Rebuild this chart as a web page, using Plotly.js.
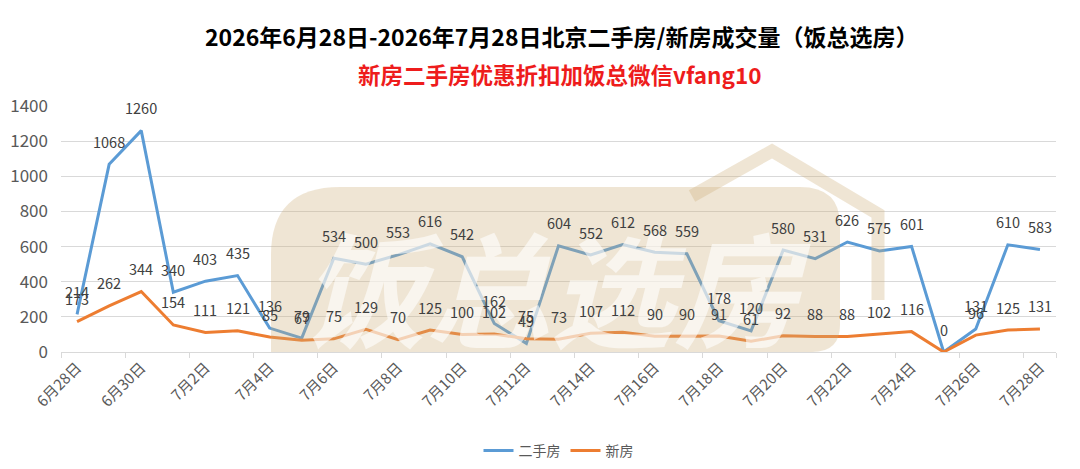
<!DOCTYPE html>
<html>
<head>
<meta charset="utf-8">
<script src="https://cdn.plot.ly/plotly-3.0.1.min.js"></script>
<style>
html,body{margin:0;padding:0;background:#fff;}
#chart{width:1080px;height:469px;}
</style>
</head>
<body>
<div id="chart"></div>
<script>
var categories = ["6月28日","6月29日","6月30日","7月1日","7月2日","7月3日","7月4日","7月5日","7月6日","7月7日","7月8日","7月9日","7月10日","7月11日","7月12日","7月13日","7月14日","7月15日","7月16日","7月17日","7月18日","7月19日","7月20日","7月21日","7月22日","7月23日","7月24日","7月25日","7月26日","7月27日","7月28日"];
var tickLabels = ["6月28日","6月30日","7月2日","7月4日","7月6日","7月8日","7月10日","7月12日","7月14日","7月16日","7月18日","7月20日","7月22日","7月24日","7月26日","7月28日"];
var secondHand = [214,1068,1260,340,403,435,136,79,534,500,553,616,542,162,49,604,552,612,568,559,178,120,580,531,626,575,601,0,131,610,583];
var newHouse = [173,262,344,154,111,121,85,67,75,129,70,125,100,102,75,73,107,112,90,90,91,61,92,88,88,102,116,0,96,125,131];

var FONT = '"Noto Sans CJK SC", "Noto Sans", sans-serif';
var BLUE = '#5B9BD5', ORANGE = '#ED7D31';

var traces = [
  {x: categories, y: secondHand, name: '二手房', type: 'scatter', mode: 'lines',
   line: {color: BLUE, width: 3}, hoverinfo: 'skip'},
  {x: categories, y: newHouse, name: '新房', type: 'scatter', mode: 'lines',
   line: {color: ORANGE, width: 3}, hoverinfo: 'skip'}
];

// plot-area pixel helpers for watermark (plot area: x 61..1056, y 106..352)
function px(x){ return (x - 61) / 995; }
function py(y){ return (352 - y) / 246; }
var WM = 'rgba(205,175,120,0.32)';

var rectPath = 'M ' + px(271) + ' ' + py(352) +
  ' L ' + px(271) + ' ' + py(255) +
  ' Q ' + px(271) + ' ' + py(187) + ' ' + px(340) + ' ' + py(187) +
  ' L ' + px(800) + ' ' + py(187) +
  ' Q ' + px(840) + ' ' + py(187) + ' ' + px(840) + ' ' + py(225) +
  ' L ' + px(840) + ' ' + py(325) +
  ' Q ' + px(840) + ' ' + py(352) + ' ' + px(812) + ' ' + py(352) + ' Z';

var roofPath = 'M ' + px(692) + ' ' + py(196) +
  ' L ' + px(772) + ' ' + py(151) +
  ' L ' + px(878) + ' ' + py(214) +
  ' L ' + px(878) + ' ' + py(300);

var shapes = [
  {type: 'path', xref: 'paper', yref: 'paper', path: rectPath,
   fillcolor: WM, line: {width: 0}, layer: 'above'},
  {type: 'path', xref: 'paper', yref: 'paper', path: roofPath,
   line: {color: WM, width: 13}, layer: 'above'}
];

var annotations = [
  {xref: 'paper', yref: 'paper', x: px(556), y: py(284), text: '饭总选房',
   showarrow: false, font: {family: FONT, size: 124, color: 'rgba(255,255,255,0.6)', weight: 'bold', style: 'italic'},
   xanchor: 'center', yanchor: 'middle'},
  {xref: 'paper', yref: 'paper', x: px(561), y: py(36), text: '<b>2026年6月28日-2026年7月28日北京二手房/新房成交量（饭总选房）</b>',
   showarrow: false, font: {family: FONT, size: 23, color: '#000'}, xanchor: 'center', yanchor: 'middle'},
  {xref: 'paper', yref: 'paper', x: px(560), y: py(74), text: '<b>新房二手房优惠折扣加饭总微信vfang10</b>',
   showarrow: false, font: {family: FONT, size: 22.5, color: '#EE1C1C'}, xanchor: 'center', yanchor: 'middle'}
];

function addLabel(i, v){
  annotations.push({x: categories[i], y: v, xref: 'x', yref: 'y',
    text: String(v), showarrow: false, yshift: 23,
    xanchor: 'center', yanchor: 'middle',
    font: {family: FONT, size: 14.5, color: '#404040'}});
}
for (var i = 0; i < secondHand.length; i++) addLabel(i, secondHand[i]);
for (var j = 0; j < newHouse.length; j++) {
  if (newHouse[j] === secondHand[j]) continue; // coincident label shown once
  addLabel(j, newHouse[j]);
}

var layout = {
  width: 1080, height: 469,
  margin: {l: 61, r: 24, t: 106, b: 117, autoexpand: false},
  paper_bgcolor: '#fff', plot_bgcolor: '#fff',
  font: {family: FONT, color: '#595959'},
  showlegend: true,
  legend: {orientation: 'h', x: 0.5, xanchor: 'center', y: py(451), yanchor: 'middle',
    font: {family: FONT, size: 14, color: '#595959'}},
  xaxis: {type: 'category', range: [-0.5, 30.5], tickmode: 'array', tickvals: tickLabels, ticktext: tickLabels,
    tickangle: -45, tickson: 'boundaries', ticks: 'outside', ticklen: 5, tickcolor: '#d9d9d9',
    showline: true, linecolor: '#d9d9d9', linewidth: 1, showgrid: false, zeroline: false, automargin: false,
    tickfont: {family: FONT, size: 15, color: '#595959'}, fixedrange: true},
  yaxis: {range: [0, 1400], dtick: 200, tick0: 0, showgrid: true, gridcolor: '#d9d9d9', gridwidth: 1,
    zeroline: false, showline: false, ticks: '', ticklabelstandoff: 12, automargin: false,
    tickfont: {family: FONT, size: 17, color: '#595959'}, fixedrange: true},
  shapes: shapes,
  annotations: annotations
};

Plotly.newPlot('chart', traces, layout, {displayModeBar: false, staticPlot: true});
</script>
</body>
</html>
